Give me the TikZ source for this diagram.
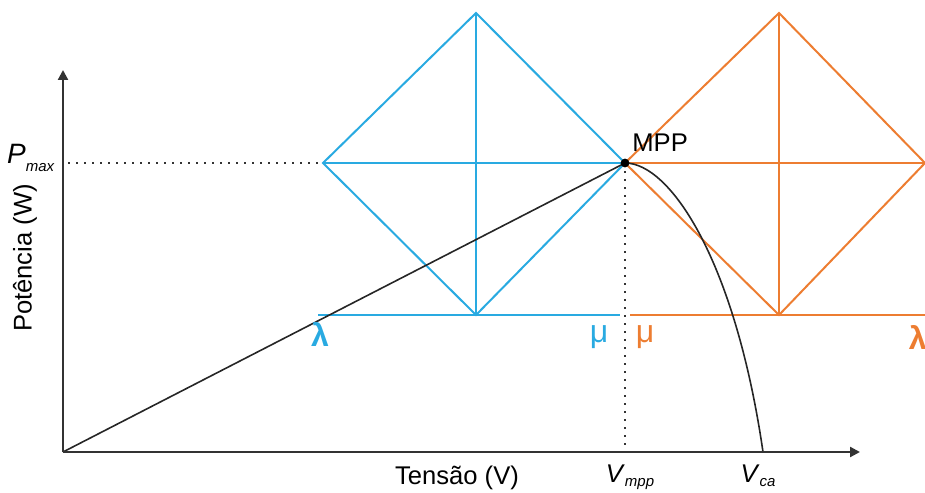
\documentclass[tikz,border=0pt]{standalone}
\usepackage{fontspec}
\setmainfont{Liberation Sans}
\usetikzlibrary{arrows.meta}
\definecolor{trackblue}{RGB}{41,170,225}
\definecolor{trackorange}{RGB}{237,125,49}
\colorlet{axes}{black!80}
\tikzset{
    axis/.style={axes, line width=1.1pt, -{Triangle[width=5pt,length=5pt]}},
    guide/.style={axes, line width=1pt, dash pattern=on 0.9pt off 3.1pt},
    bluetrack/.style={trackblue, line width=1pt},
    orangetrack/.style={trackorange, line width=1pt},
    curve/.style={black!85, line width=0.8pt},
    axislabel/.style={font=\fontsize{12.8}{14}\selectfont, inner sep=0pt},
    greek/.style={font=\fontsize{16}{18}\selectfont, inner sep=0pt}
}
\newcommand{\subtext}[2][-0.6ex]{\raisebox{#1}{\fontsize{7.5}{8}\selectfont\textit{#2}}}
\begin{document}
\begin{tikzpicture}[x=0.5pt, y=-0.5pt]
    \useasboundingbox (0,0) rectangle (925,492);
    % axes
    \coordinate (O) at (63,452);
    \coordinate (ytip) at (63,70);
    \coordinate (xtip) at (860,452);
    \coordinate (pmax) at (68,163);
    \coordinate (mpp) at (625,163);
    \coordinate (vmpp) at (625,452);
    \coordinate (vca) at (763,452);
    % blue diamond
    \coordinate (bt) at (476,13);
    \coordinate (bl) at (323,163);
    \coordinate (bb) at (476,315);
    \coordinate (bs) at (318,315);
    \coordinate (be) at (620,315);
    % orange diamond
    \coordinate (ot) at (779,13);
    \coordinate (or) at (925,163);
    \coordinate (ob) at (779,315);
    \coordinate (os) at (630,315);
    \coordinate (oe) at (925,315);

    \draw[guide] (pmax) -- (mpp);
    \draw[guide] (mpp) -- (vmpp);

    \draw[bluetrack] (bl) -- (bt) -- (mpp) -- (bb) -- cycle;
    \draw[bluetrack] (bl) -- (mpp);
    \draw[bluetrack] (bt) -- (bb);
    \draw[bluetrack] (bs) -- (be);

    \draw[orangetrack] (mpp) -- (ot) -- (or) -- (ob) -- cycle;
    \draw[orangetrack] (mpp) -- (or);
    \draw[orangetrack] (ot) -- (ob);
    \draw[orangetrack] (os) -- (oe);

    \draw[curve] (O) -- (mpp);
    \draw[curve] (mpp) .. controls (670,163) and (735,260) .. (vca);

    \draw[axis] (O) -- (ytip);
    \draw[axis] (O) -- (xtip);

    \fill[black] (mpp) circle (2.2pt);

    % labels
    \node[axislabel, anchor=south west] (mpplabel) at (632,152) {MPP};
    \node[axislabel, anchor=east] (pmaxlabel) at (55,158) {{\fontsize{14}{16}\selectfont\textit{P}}\subtext{max}};
    \node[axislabel] (xlabel) at (457,478) {Tensão (V)};
    \node[axislabel, rotate=90] (ylabel) at (25,258) {Potência (W)};
    \node[axislabel, anchor=north] (vmpplabel) at (630,464) {\textit{V}\subtext[-0.35ex]{mpp}};
    \node[axislabel, anchor=north] (vcalabel) at (758,464) {\textit{V}\subtext[-0.35ex]{ca}};
    \node[greek, trackblue] (lambdab) at (320,334) {\textbf{λ}};
    \node[greek, trackblue] (mub) at (599,337) {μ};
    \node[greek, trackorange] (muo) at (645,337) {μ};
    \node[greek, trackorange, anchor=east] (lambdao) at (927,337) {\textbf{λ}};
\end{tikzpicture}
\end{document}
